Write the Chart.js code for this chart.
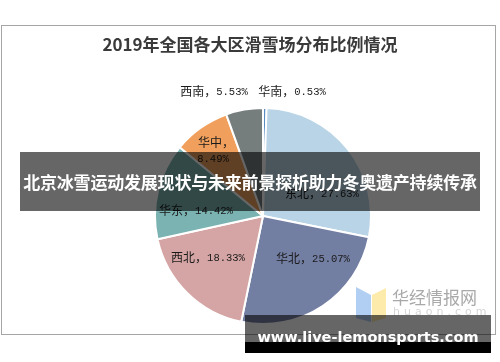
<!DOCTYPE html>
<html>
<head>
<meta charset="utf-8">
<script src="https://cdn.jsdelivr.net/npm/chart.js@4"></script>
<style>
    html, body { margin: 0; padding: 0; background: #fff; }
    #wrap { position: relative; width: 500px; height: 362px; overflow: hidden; }
    #grafico { position: absolute; left: 0; top: 0; }
    .banda {
        position: absolute; left: 20px; top: 152px; width: 460px; height: 59px;
        background: rgba(0, 0, 0, 0.6); color: #fff;
        font: bold 17px "Noto Sans CJK SC", sans-serif;
        line-height: 59px; text-align: center; white-space: nowrap; letter-spacing: -0.2px;
    }
    .sitio {
        position: absolute; left: 245px; top: 315px; width: 246px; height: 38px;
        background: linear-gradient(to bottom, rgba(0,0,0,0.6) 0, rgba(0,0,0,0.6) 27px, #000 27px);
        color: #fff; text-align: center; white-space: nowrap; overflow: hidden;
    }
    .sitio span { display: inline-block; font: bold 15px "DejaVu Sans", sans-serif; line-height: 44px; }
    .marca { position: absolute; left: 392px; top: 286px; color: #a9a9a9; font: 17px "Noto Sans CJK SC", sans-serif; line-height: 22px; }
    .marca2 { position: absolute; left: 393px; top: 305px; color: #d6d6d6; font: 11px "DejaVu Sans", sans-serif; letter-spacing: 4px; }
    svg { position: absolute; left: 0; top: 0; }
</style>
</head>
<body>
<div id="wrap">
    <canvas id="grafico" width="500" height="362"></canvas>
    <svg width="500" height="362">
        <polygon points="356,287 371,295 371,322 356,318" fill="#a9c9f2" opacity="0.9"/>
        <polygon points="372,295 386,288 386,318 372,322" fill="#fde9a3" opacity="0.9"/>
    </svg>
    <div class="marca">华经情报网</div>
    <div class="marca2">huaon.com</div>
    <div class="banda">北京冰雪运动发展现状与未来前景探析助力冬奥遗产持续传承</div>
    <div class="sitio"><span id="sitioTexto">www.live-lemonsports.com</span></div>
</div>
<script>
const titulo = '2019年全国各大区滑雪场分布比例情况';
const regiones = ['华南', '东北', '华北', '西北', '华东', '华中', '西南'];
const porcentajes = [0.53, 27.63, 25.07, 18.33, 14.42, 8.49, 5.53];
const colores = ['#5a8cc4', '#b9d4e6', '#737ea3', '#d4a5a4', '#7ab3b2', '#f0a05c', '#757d7d'];

// posicion de cada etiqueta respecto al centro del pastel (px)
const posEtiquetas = [[29, -125], [59, -23], [50, 42], [-55, 41], [-67, -6], [-50, -66], [-49, -125]];
const etiquetaDosLineas = [false, false, false, false, false, true, false];

// ajustar el texto del sitio al ancho de la banda
const sitio = document.getElementById('sitioTexto');
let tam = 15;
while (sitio.getBoundingClientRect().width > 224 && tam > 8) {
    tam -= 0.5;
    sitio.style.fontSize = tam + 'px';
}

const marcoYTitulo = {
    id: 'marcoYTitulo',
    beforeDraw(chart) {
        const ctx = chart.ctx;
        ctx.save();
        ctx.strokeStyle = '#a6a6a6';
        ctx.lineWidth = 1;
        ctx.strokeRect(1.5, 25.5, 494, 309);
        ctx.fillStyle = '#3a3a3a';
        ctx.font = 'bold 17px "Noto Sans CJK SC", sans-serif';
        ctx.textAlign = 'center';
        ctx.textBaseline = 'middle';
        ctx.fillText(titulo, 250, 45);
        ctx.restore();
    },
    afterDraw(chart) {
        const ctx = chart.ctx;
        const arco = chart.getDatasetMeta(0).data[0];
        const cx = arco.x, cy = arco.y;
        ctx.save();
        ctx.fillStyle = '#1a1a1a';
        ctx.textBaseline = 'middle';
        regiones.forEach((r, i) => {
            const x = cx + posEtiquetas[i][0];
            const y = cy + posEtiquetas[i][1];
            const parte1 = r + '，';
            const parte2 = porcentajes[i].toFixed(2) + '%';
            const f1 = '12px "Noto Sans CJK SC", sans-serif';
            const f2 = '10.5px "Liberation Mono", monospace';
            ctx.font = f1;
            const w1 = ctx.measureText(parte1).width;
            ctx.font = f2;
            const w2 = ctx.measureText(parte2).width;
            ctx.textAlign = 'left';
            if (etiquetaDosLineas[i]) {
                ctx.font = f1;
                ctx.fillText(parte1, x - w1 / 2 + 3, y - 8);
                ctx.font = f2;
                ctx.fillText(parte2, x - w2 / 2, y + 9);
            } else {
                const x0 = x - (w1 + w2) / 2;
                ctx.font = f1;
                ctx.fillText(parte1, x0, y);
                ctx.font = f2;
                ctx.fillText(parte2, x0 + w1, y + 1);
            }
        });
        ctx.restore();
    }
};

new Chart(document.getElementById('grafico'), {
    type: 'pie',
    data: {
        labels: regiones,
        datasets: [{
            data: porcentajes,
            backgroundColor: colores,
            borderColor: '#ffffff',
            borderWidth: 2,
            hoverOffset: 0
        }]
    },
    options: {
        responsive: false,
        animation: false,
        events: [],
        layout: { padding: { left: 154, right: 128, top: 107, bottom: 37 } },
        plugins: {
            legend: { display: false },
            tooltip: { enabled: false },
            title: { display: false }
        }
    },
    plugins: [marcoYTitulo]
});
</script>
</body>
</html>
